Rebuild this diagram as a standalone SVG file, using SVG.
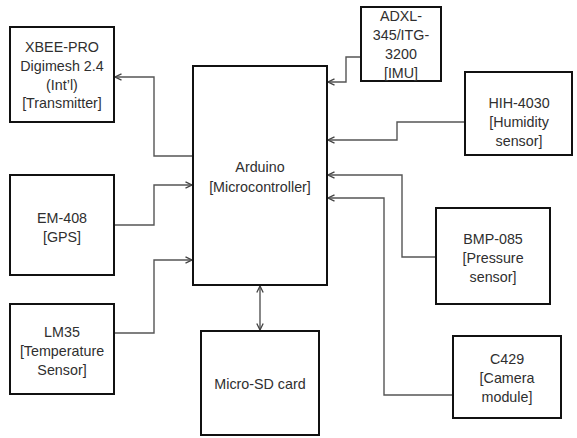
<svg xmlns="http://www.w3.org/2000/svg" width="577" height="438" viewBox="0 0 577 438">
<defs>
<style>
.box{fill:#fff;stroke:#111;stroke-width:2}
.lbl{font-family:"Liberation Sans",Arial,sans-serif;font-size:14.3px;fill:#2f2f2f;text-anchor:middle}
.con{fill:none;stroke:#555;stroke-width:1.4}
</style>
<marker id="ah" viewBox="0 0 8 8" refX="7.5" refY="4" markerWidth="8" markerHeight="8" markerUnits="userSpaceOnUse" orient="auto-start-reverse">
<path d="M1,0.8 L7.5,4 L1,7.2" fill="none" stroke="#444" stroke-width="1.3"/>
</marker>
</defs>
<rect width="577" height="438" fill="#fff"/>
<g id="connectors">
<polyline class="con" points="193,156 154,156 154,77 115,77" marker-end="url(#ah)"/>
<polyline class="con" points="114,225 154,225 154,185 192,185" marker-end="url(#ah)"/>
<polyline class="con" points="114,333 154,333 154,260 192,260" marker-end="url(#ah)"/>
<polyline class="con" points="361,57 346,57 346,82 328,82" marker-end="url(#ah)"/>
<polyline class="con" points="465,122 397,122 397,140 328,140" marker-end="url(#ah)"/>
<polyline class="con" points="436,257 402,257 402,175 328,175" marker-end="url(#ah)"/>
<polyline class="con" points="453,395 384,395 384,198 328,198" marker-end="url(#ah)"/>
<line class="con" x1="260" y1="286" x2="260" y2="330" marker-start="url(#ah)" marker-end="url(#ah)"/>
</g>
<g id="xbee">
<rect class="box" x="10" y="27" width="104" height="95"/>
<text class="lbl" x="62" y="52">XBEE-PRO</text>
<text class="lbl" x="62" y="71">Digimesh 2.4</text>
<text class="lbl" x="62" y="89.5">(Int’l)</text>
<text class="lbl" x="62" y="108">[Transmitter]</text>
</g>
<g id="arduino">
<rect class="box" x="193" y="66" width="134" height="219"/>
<text class="lbl" x="260" y="172">Arduino</text>
<text class="lbl" x="260" y="192">[Microcontroller]</text>
</g>
<g id="imu">
<rect class="box" x="361" y="7" width="80" height="74"/>
<text class="lbl" x="401" y="21">ADXL-</text>
<text class="lbl" x="401" y="40">345/ITG-</text>
<text class="lbl" x="401" y="59">3200</text>
<text class="lbl" x="401" y="78">[IMU]</text>
</g>
<g id="hih">
<rect class="box" x="465" y="72" width="107" height="83"/>
<text class="lbl" x="519" y="108">HIH-4030</text>
<text class="lbl" x="519" y="127">[Humidity</text>
<text class="lbl" x="519" y="146">sensor]</text>
</g>
<g id="gps">
<rect class="box" x="10" y="175" width="104" height="100"/>
<text class="lbl" x="62" y="223">EM-408</text>
<text class="lbl" x="62" y="242">[GPS]</text>
</g>
<g id="bmp">
<rect class="box" x="436" y="208" width="114" height="96"/>
<text class="lbl" x="493" y="244">BMP-085</text>
<text class="lbl" x="493" y="263">[Pressure</text>
<text class="lbl" x="493" y="282">sensor]</text>
</g>
<g id="lm35">
<rect class="box" x="10" y="304" width="104" height="90"/>
<text class="lbl" x="62" y="337">LM35</text>
<text class="lbl" x="62" y="356">[Temperature</text>
<text class="lbl" x="62" y="375">Sensor]</text>
</g>
<g id="microsd">
<rect class="box" x="201" y="331" width="118" height="104"/>
<text class="lbl" x="260" y="389">Micro-SD card</text>
</g>
<g id="camera">
<rect class="box" x="453" y="336" width="108" height="82"/>
<text class="lbl" x="507" y="364">C429</text>
<text class="lbl" x="507" y="383">[Camera</text>
<text class="lbl" x="507" y="402">module]</text>
</g>
</svg>
